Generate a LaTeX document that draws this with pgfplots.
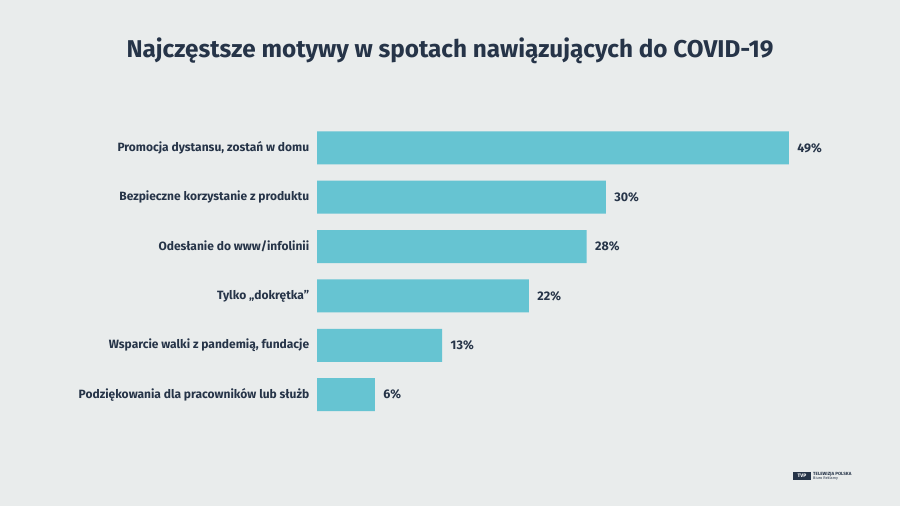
\documentclass[border=0pt]{standalone}
\usepackage{fontspec}
\setmainfont{Fira Sans}
\usepackage{pgfplots}
\pgfplotsset{compat=1.18}
\definecolor{bg}{HTML}{E9ECEC}
\definecolor{barc}{HTML}{66C4D2}
\definecolor{navy}{HTML}{263448}
\begin{document}
\begin{tikzpicture}[x=1pt,y=1pt]
\fill[bg] (0,0) rectangle (900,506);
\node[font=\bfseries\fontsize{24.3}{30}\selectfont, text=navy, anchor=base] at (450,448) {Najczęstsze motywy w spotach nawiązujących do COVID-19};
\begin{axis}[at={(317pt,86.75pt)}, anchor=south west, scale only axis,
  width=481.5pt, height=296pt, xmin=0, xmax=50, ymin=-0.5, ymax=5.5,
  y dir=reverse, xbar, bar width=33pt,
  axis line style={draw=none}, tick style={draw=none},
  xtick=\empty, ytick={0,1,2,3,4,5},
  yticklabels={{Promocja dystansu, zostań w domu}, Bezpieczne korzystanie z produktu, Odesłanie do www/infolinii, Tylko „dokrętka”, {Wsparcie walki z pandemią, fundacje}, Podziękowania dla pracowników lub służb},
  yticklabel style={font=\fontsize{12}{14}\selectfont\bfseries, text=navy, xshift=0pt},
  /pgf/number format/assume math mode=true,
  point meta=x,
  nodes near coords={\pgfmathprintnumber{\pgfplotspointmeta}\%},
  nodes near coords style={anchor=west, font=\fontsize{12.5}{14}\selectfont\bfseries, text=navy, xshift=5pt},
  clip=false]
\addplot[fill=barc, draw=none] coordinates {(49,0) (30,1) (28,2) (22,3) (13,4) (6,5)};
\end{axis}
\fill[navy] (793,26) rectangle (811,34);
\node[font=\fontsize{5}{6}\selectfont\bfseries, text=white] at (802,30) {TVP};
\node[font=\fontsize{4.5}{5}\selectfont\bfseries, text=navy, anchor=west, inner sep=0pt] at (813,32) {TELEWIZJA POLSKA};
\node[font=\fontsize{3.8}{5}\selectfont, text=navy, anchor=west, inner sep=0pt] at (813,27.5) {Biuro Reklamy};
\end{tikzpicture}
\end{document}
